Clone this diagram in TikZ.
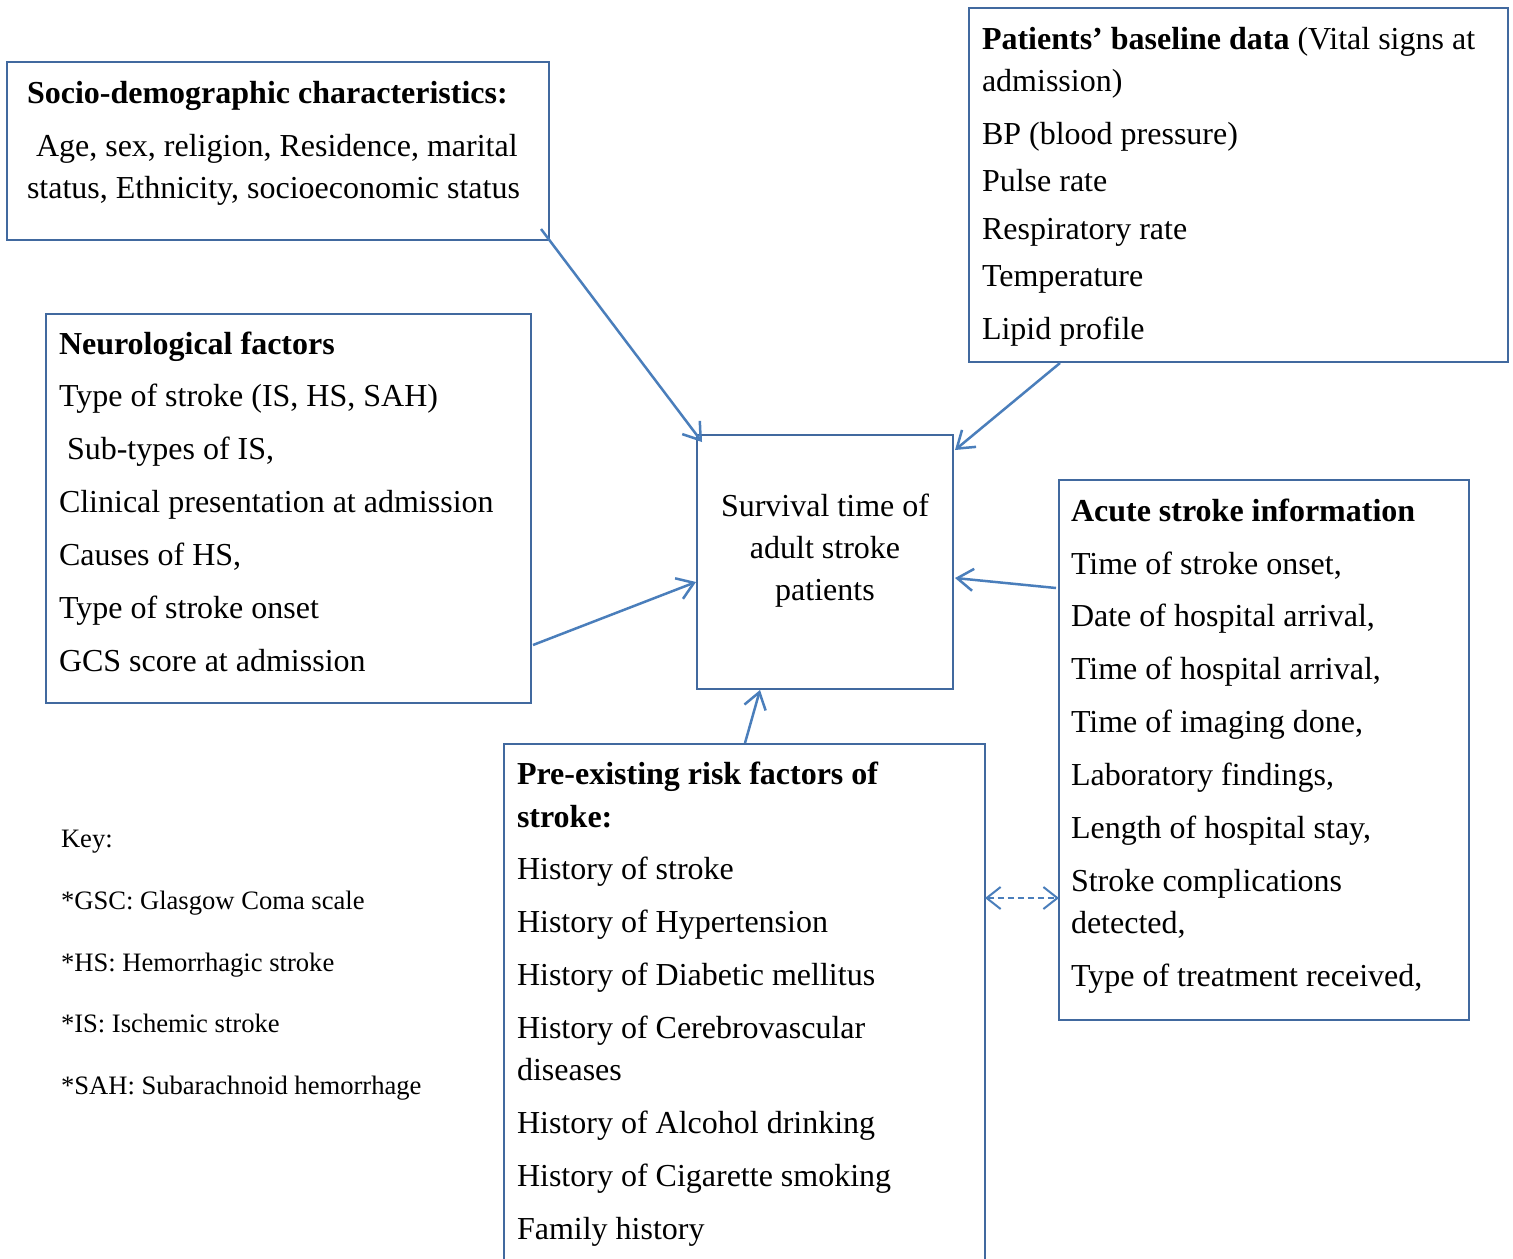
\documentclass[tikz,border=0pt]{standalone}
\usepackage{fontspec}
\setmainfont{Liberation Serif}
\usetikzlibrary{arrows.meta,calc}
\definecolor{boxc}{HTML}{41699F}
\definecolor{arrc}{HTML}{4A7EBB}
\begin{document}
\begin{tikzpicture}[x=0.5pt,y=-0.5pt,
  box/.style={draw=boxc, line width=0.75pt, inner sep=0pt, outer sep=0pt, fill=none},
  txt/.style={anchor=base west, inner sep=0pt, outer sep=0pt, font=\fontsize{16}{19}\selectfont},
  ctxt/.style={anchor=base, inner sep=0pt, outer sep=0pt, font=\fontsize{16}{19}\selectfont},
  keytxt/.style={anchor=base west, inner sep=0pt, outer sep=0pt, font=\fontsize{13.3}{16}\selectfont},
  conn/.style={draw=arrc, line width=1.25pt, -{Straight Barb[length=8pt,width=11pt,line width=1.25pt]}},
  dconn/.style={draw=arrc, line width=1pt, dash pattern=on 3pt off 2pt, {Straight Barb[length=7pt,width=11pt,line width=1pt]}-{Straight Barb[length=7pt,width=11pt,line width=1pt]}}
]
\useasboundingbox (0,0) rectangle (1513,1258);
\clip (0,0) rectangle (1513,1258);
\fill[white] (0,0) rectangle (1513,1258);

% boxes
\node[box, minimum width=271pt, minimum height=89pt] (socio) at (278,151) {};
\node[box, minimum width=269.5pt, minimum height=177pt] (base) at (1238.5,185) {};
\node[box, minimum width=242.5pt, minimum height=194.5pt] (neuro) at (288.5,508.5) {};
\node[box, minimum width=128pt, minimum height=127pt] (surv) at (825,562) {};
\node[box, minimum width=205pt, minimum height=270pt] (acute) at (1264,750) {};
\node[box, minimum width=240.5pt, minimum height=263pt] (pre) at (744.5,1007) {};

% socio text
\node[txt] (s1) at (27,103) {\textbf{Socio-demographic characteristics:}};
\node[txt] (s2) at (36,156) {Age, sex, religion, Residence, marital};
\node[txt] (s3) at (27,198) {status, Ethnicity, socioeconomic status};

% baseline text
\node[txt] (b1) at (982,49) {\textbf{Patients’ baseline data} (Vital signs at};
\node[txt] (b2) at (982,91) {admission)};
\node[txt] (b3) at (982,144) {BP (blood pressure)};
\node[txt] (b4) at (982,191) {Pulse rate};
\node[txt] (b5) at (982,239) {Respiratory rate};
\node[txt] (b6) at (982,286) {Temperature};
\node[txt] (b7) at (982,339) {Lipid profile};

% neuro text
\node[txt] (n1) at (59,354) {\textbf{Neurological factors}};
\node[txt] (n2) at (59,406) {Type of stroke (IS, HS, SAH)};
\node[txt] (n3) at (67,459) {Sub-types of IS,};
\node[txt] (n4) at (59,512) {Clinical presentation at admission};
\node[txt] (n5) at (59,565) {Causes of HS,};
\node[txt] (n6) at (59,618) {Type of stroke onset};
\node[txt] (n7) at (59,671) {GCS score at admission};

% center text
\node[ctxt] (c1) at (825,516) {Survival time of};
\node[ctxt] (c2) at (825,558) {adult stroke};
\node[ctxt] (c3) at (825,600) {patients};

% acute text
\node[txt] (a1) at (1071,521) {\textbf{Acute stroke information}};
\node[txt] (a2) at (1071,574) {Time of stroke onset,};
\node[txt] (a3) at (1071,626) {Date of hospital arrival,};
\node[txt] (a4) at (1071,679) {Time of hospital arrival,};
\node[txt] (a5) at (1071,732) {Time of imaging done,};
\node[txt] (a6) at (1071,785) {Laboratory findings,};
\node[txt] (a7) at (1071,838) {Length of hospital stay,};
\node[txt] (a8) at (1071,891) {Stroke complications};
\node[txt] (a9) at (1071,933) {detected,};
\node[txt] (a10) at (1071,986) {Type of treatment received,};

% pre-existing text
\node[txt] (p1) at (517,784) {\textbf{Pre-existing risk factors of}};
\node[txt] (p2) at (517,827) {\textbf{stroke:}};
\node[txt] (p3) at (517,879) {History of stroke};
\node[txt] (p4) at (517,932) {History of Hypertension};
\node[txt] (p5) at (517,985) {History of Diabetic mellitus};
\node[txt] (p6) at (517,1038) {History of Cerebrovascular};
\node[txt] (p7) at (517,1080) {diseases};
\node[txt] (p8) at (517,1133) {History of Alcohol drinking};
\node[txt] (p9) at (517,1186) {History of Cigarette smoking};
\node[txt] (p10) at (517,1239) {Family history};

% key
\node[keytxt] (k1) at (61,847) {Key:};
\node[keytxt] (k2) at (61,909) {*GSC: Glasgow Coma scale};
\node[keytxt] (k3) at (61,971) {*HS: Hemorrhagic stroke};
\node[keytxt] (k4) at (61,1032) {*IS: Ischemic stroke};
\node[keytxt] (k5) at (61,1094) {*SAH: Subarachnoid hemorrhage};

% connectors
\draw[conn] ($(socio.south east)+(-8,-11)$) -- ($(surv.north west)+(5,7)$);
\draw[conn] ($(base.south west)+(91,1)$) -- ($(surv.north east)+(2,15)$);
\draw[conn] ($(neuro.south east)+(2,-58)$) -- ($(surv.west)+(-1,20)$);
\draw[conn] ($(acute.north west)+(-3,108)$) -- ($(surv.east)+(2,16)$);
\draw[conn] ($(pre.north west)+(241,-1)$) -- ($(surv.south west)+(63,1)$);
\draw[dconn] ($(pre.north east)+(0,154)$) -- ($(acute.west)+(0,148)$);
\end{tikzpicture}
\end{document}
